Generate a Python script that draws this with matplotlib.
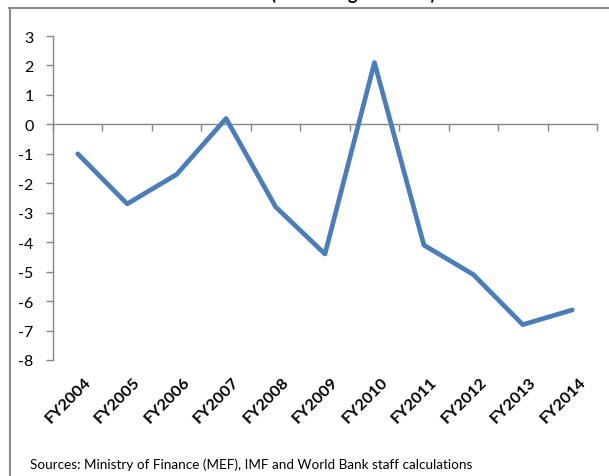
import matplotlib
matplotlib.use("Agg")
import matplotlib.pyplot as plt
from matplotlib.lines import Line2D
from matplotlib.transforms import blended_transform_factory, ScaledTranslation

plt.rcParams['font.family'] = ['Lato', 'DejaVu Sans']

years = ["FY2004", "FY2005", "FY2006", "FY2007", "FY2008", "FY2009",
         "FY2010", "FY2011", "FY2012", "FY2013", "FY2014"]
balance = [-1.0, -2.7, -1.7, 0.2, -2.8, -4.4, 2.1, -4.1, -5.1, -6.8, -6.3]
yticks = list(range(-8, 4))

fig = plt.figure(figsize=(6.09, 4.77), dpi=100)
W, H = 609, 477
ax = fig.add_axes([53 / W, 116 / H, (597 - 53) / W, (361 - 37) / H])

x = list(range(len(years)))
ax.plot(x, balance, color='#4a7ebb', lw=3.4, solid_joinstyle='round',
        solid_capstyle='round', zorder=3)

ax.set_xlim(-0.5, len(years) - 0.5)
ax.set_ylim(-8, 3)
ax.set_yticks(yticks)
ax.set_yticklabels([str(v) for v in yticks], fontsize=11.5)

gray = '#868686'
for s in ['top', 'right']:
    ax.spines[s].set_visible(False)
ax.spines['left'].set_color(gray)
ax.spines['bottom'].set_color(gray)
ax.spines['bottom'].set_position(('data', 0))
ax.spines['left'].set_linewidth(1.0)
ax.spines['bottom'].set_linewidth(1.0)

ax.set_xticks([i + 0.5 for i in range(-1, len(years))])
ax.set_xticklabels([])
ax.tick_params(axis='x', direction='out', length=5, color=gray, width=1.0)
ax.tick_params(axis='y', direction='out', length=5, color=gray, width=1.0, pad=9)

trans = blended_transform_factory(ax.transData, ax.transAxes) + \
    ScaledTranslation(6 / 100, -14 / 100, fig.dpi_scale_trans)
for i, lab in enumerate(years):
    ax.text(i, 0, lab, transform=trans, rotation=45, ha='right', va='top',
            rotation_mode='anchor', fontsize=11.8, fontweight='bold')

# frame lines
fig.add_artist(Line2D([9 / W, 1], [1 - 8.5 / H, 1 - 8.5 / H], color='#8c8c8c', lw=1.5,
                      transform=fig.transFigure))
fig.add_artist(Line2D([9.5 / W, 9.5 / W], [0, 1 - 8.5 / H], color='#8c8c8c', lw=1.5,
                      transform=fig.transFigure))

# title (cut off at the top edge, as in the source image)
fig.text(295 / W, 1 - 3 / H, "Fiscal Balance (Percentage of GDP)", ha='center', va='bottom',
         fontsize=13, fontweight='bold')

fig.text(30 / W, 1 - 465 / H, "Sources: Ministry of Finance (MEF), IMF and World Bank staff calculations",
         ha='left', va='center', fontsize=9.7)

fig.savefig("out.png", dpi=100)
